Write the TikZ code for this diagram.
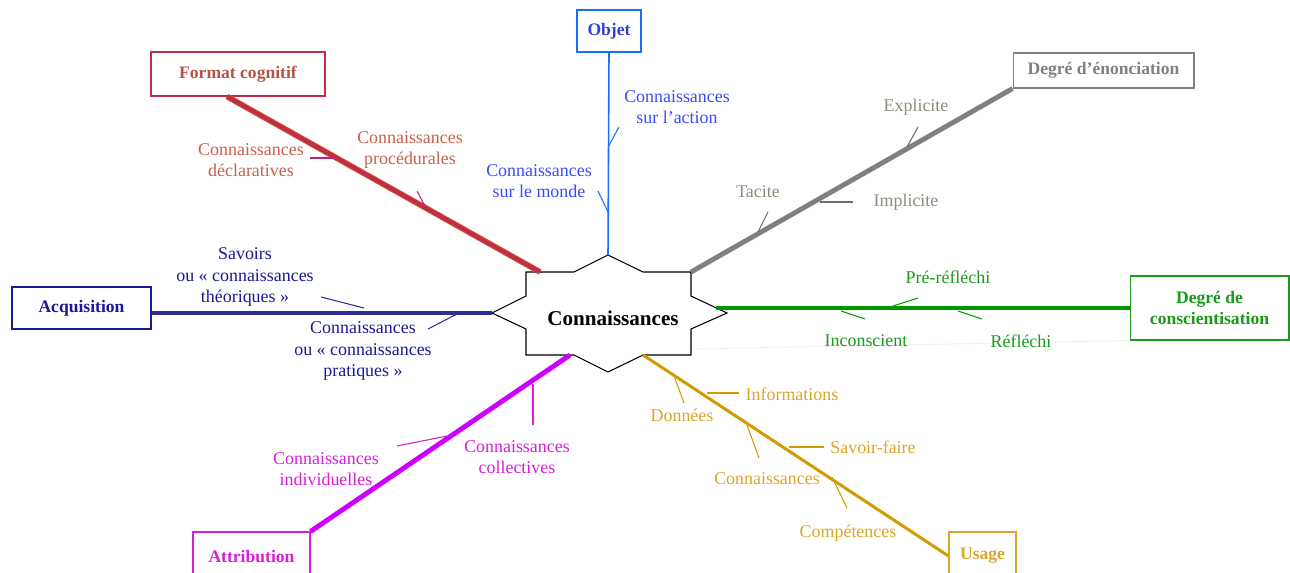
\documentclass[tikz,border=0pt]{standalone}
\usepackage{fontspec}
\setmainfont{Liberation Serif}
\usepackage{tikz}
\usetikzlibrary{calc,positioning}
\definecolor{rouge}{RGB}{190,45,75}
\definecolor{rougeb}{RGB}{215,85,35}
\definecolor{rouget}{RGB}{200,95,75}
\definecolor{bleu}{RGB}{25,110,255}
\definecolor{bleut}{RGB}{55,75,255}
\definecolor{gris}{RGB}{128,128,128}
\definecolor{grist}{RGB}{140,140,122}
\definecolor{vert}{RGB}{0,150,0}
\definecolor{vertt}{RGB}{25,155,25}
\definecolor{marine}{RGB}{45,45,150}
\definecolor{marinet}{RGB}{25,25,150}
\definecolor{magenta}{RGB}{205,0,255}
\definecolor{magentat}{RGB}{215,30,215}
\definecolor{or}{RGB}{210,155,0}
\definecolor{ort}{RGB}{218,165,40}

\begin{document}
\begin{tikzpicture}[x=0.02cm,y=-0.02cm,
  axe/.style={draw,fill=white,line width=0.6pt,inner sep=0pt,align=center,font=\bfseries\fontsize{10}{12}\selectfont},
  lab/.style={inner sep=0pt,align=center,font=\fontsize{10.2}{12}\selectfont},
  trait/.style={line width=0.6pt}]
\clip (0,0) rectangle (1290,572);
% l'etoile du centre
\coordinate (n) at (608,255);
\coordinate (ne) at (691,272);
\coordinate (e) at (727,313);
\coordinate (se) at (643,355);
\coordinate (o) at (492,313);
\coordinate (cfc) at (540,272);
\coordinate (cve) at (716,308);
\coordinate (cat) at (570,355);
\coordinate (cpa) at (692,349);
\draw[line width=0.6pt,fill=white] (526,272) -- (574,272) -- (n) -- (643,272) -- (ne) -- (691,296) -- (e) -- (691,329) -- (691,355) -- (se) -- (608,372) -- (574,355) -- (526,355) -- (526,329) -- (o) -- (526,296) -- cycle;
\node[font=\bfseries\fontsize{12}{14}\selectfont] (centre) at (613,318) {Connaissances};
% les boites
\node[axe,draw=rouge,text=rouget!90!black,minimum width=3.48cm,minimum height=0.88cm] (format) at (238,74) {Format cognitif};
\node[axe,draw=bleu,text=bleut!85!black,minimum width=1.28cm,minimum height=0.84cm] (objet) at (609,31) {Objet};
\node[axe,draw=gris,text=gris,minimum width=3.62cm,minimum height=0.7cm] (enon) at (1103.5,70.5) {Degré d’énonciation};
\node[axe,draw=marinet,text=marinet,minimum width=2.78cm,minimum height=0.84cm] (acq) at (81.5,308) {Acquisition};
\node[axe,draw=vertt,text=vertt,minimum width=3.18cm,minimum height=1.28cm] (consc) at (1209.5,308) {Degré de\\conscientisation};
\node[axe,draw=magentat,text=magentat,minimum width=2.34cm,minimum height=0.96cm] (attr) at (251.5,556) {Attribution};
\node[axe,draw=ort,text=ort,minimum width=1.34cm,minimum height=0.96cm] (usage) at (982.5,556) {Usage};
% les branches
\draw[rougeb,line width=3.3pt] ([xshift=-0.22cm]format.south) -- (cfc);
\draw[rouge,line width=2.2pt] ([xshift=-0.22cm]format.south) -- (cfc);
\draw[bleu,line width=0.9pt] (objet.south) -- (n);
\draw[gris,line width=2.8pt] (enon.south west) -- (ne);
\draw[vert,line width=2.8pt] (consc.west) -- (cve);
\draw[marine,line width=2.2pt] ([yshift=-0.1cm]acq.east) -- (o);
\draw[magenta,line width=2.8pt] (attr.north east) -- (cat);
\draw[or,line width=1.7pt] (se) -- (usage.west);
\draw[gris!12,line width=0.5pt] (cpa) -- (consc.south west);
% format cognitif
\node[lab,text=rouget] (decl) at (251,160) {Connaissances\\déclaratives};
\node[lab,text=rouget] (proc) at (410,150) {Connaissances\\procédurales};
\draw[trait,rouge!70!magenta] (333,158) -- (310,158);
\draw[trait,rouge!70!magenta] (425,206) -- (417,191);
% objet
\node[lab,text=bleut] (action) at (677,107) {Connaissances\\sur l’action};
\node[lab,text=bleut] (monde) at (539,181) {Connaissances\\sur le monde};
\draw[trait,bleu] (608,147) -- (619,127);
\draw[trait,bleu] (608,212) -- (598,191);
% degre d'enonciation
\node[lab,text=grist] (expl) at (916,107) {Explicite};
\node[lab,text=grist] (tac) at (758,192) {Tacite};
\node[lab,text=grist] (impl) at (906,202) {Implicite};
\draw[trait,gris!85!black] (907,147) -- (918,127);
\draw[trait,gris!85!black] (758,232) -- (768,212);
\draw[trait,gris!85!black] (820,202) -- (853,202);
% degre de conscientisation
\node[lab,text=vertt] (pre) at (948,277) {Pré-réfléchi};
\node[lab,text=vertt] (incon) at (866,341) {Inconscient};
\node[lab,text=vertt] (refl) at (1021,341) {Réfléchi};
\draw[trait,vert] (893,306) -- (918,298);
\draw[trait,vert] (841,311) -- (865,319);
\draw[trait,vert] (958,311) -- (982,319);
% acquisition
\node[lab,text=marinet] (theo) at (245,277) {Savoirs\\ou « connaissances\\théoriques »};
\node[lab,text=marinet] (prat) at (363,351) {Connaissances\\ou « connaissances\\pratiques »};
\draw[trait,marine] (364,308) -- (321,297);
\draw[trait,marine] (457,314) -- (428,329);
% attribution
\node[lab,text=magentat] (indiv) at (326,469) {Connaissances\\individuelles};
\node[lab,text=magentat] (coll) at (517,457) {Connaissances\\collectives};
\draw[trait,magentat] (533,384) -- (533,425);
\draw[trait,magentat] (447,436) -- (397,446);
% usage
\node[lab,text=ort] (donn) at (682,415) {Données};
\node[lab,text=ort] (info) at (792,394) {Informations};
\node[lab,text=ort] (conn) at (767,479) {Connaissances};
\node[lab,text=ort] (sf) at (873,447) {Savoir-faire};
\node[lab,text=ort] (comp) at (848,533) {Compétences};
\draw[trait,or] (673,373) -- (684,403);
\draw[trait,or] (707,393) -- (739,393);
\draw[trait,or] (747,425) -- (759,458);
\draw[trait,or] (789,447) -- (824,447);
\draw[trait,or] (832,477) -- (847,508);
\end{tikzpicture}
\end{document}
